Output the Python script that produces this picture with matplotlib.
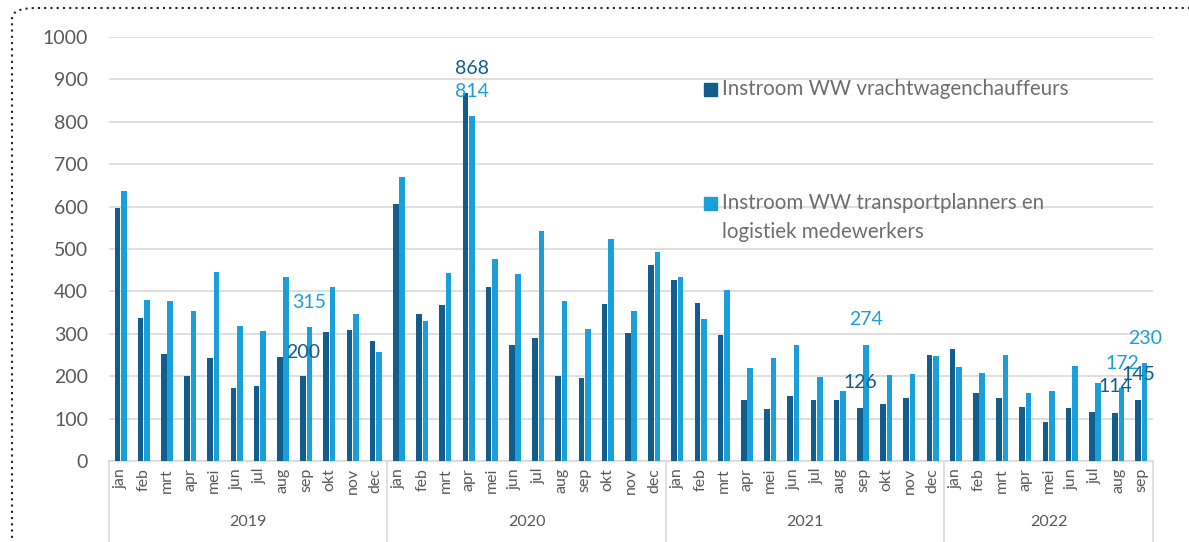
import matplotlib
matplotlib.use("Agg")
import matplotlib.pyplot as plt
from matplotlib.patches import FancyBboxPatch, Rectangle
import matplotlib.transforms as mtransforms
import numpy as np

plt.rcParams['font.family'] = ['Lato', 'DejaVu Sans']

years = ["2019", "2020", "2021", "2022"]
months_per_year = [12, 12, 12, 9]
month_names = ["jan", "feb", "mrt", "apr", "mei", "jun", "jul", "aug",
               "sep", "okt", "nov", "dec"]

chauffeurs = [597, 338, 252, 200, 242, 173, 178, 245, 200, 305, 310, 282,
              606, 347, 369, 868, 410, 273, 291, 201, 195, 370, 303, 463,
              428, 372, 298, 144, 123, 153, 143, 143, 126, 134, 149, 250,
              264, 161, 149, 128, 91, 125, 115, 114, 145]
planners = [637, 379, 378, 354, 445, 318, 306, 435, 315, 410, 346, 256,
            669, 330, 443, 814, 476, 442, 542, 377, 311, 524, 354, 493,
            433, 335, 403, 220, 242, 274, 199, 165, 274, 202, 206, 248,
            222, 208, 249, 160, 165, 225, 185, 172, 230]

series_names = ["Instroom WW vrachtwagenchauffeurs",
                "Instroom WW transportplanners en\nlogistiek medewerkers"]
colors = ["#135D8E", "#1A9FD9"]

# data labels: (month index, series, dx, dy)
labels = [(15, 0, 0.15, 57), (15, 1, 0.13, 57),
          (8, 1, 0.13, 58), (8, 0, -0.12, 57),
          (32, 1, 0.13, 59), (32, 0, -0.13, 58),
          (44, 1, 0.15, 58), (43, 1, 0.16, 59),
          (44, 0, -0.15, 58), (43, 0, -0.14, 61)]

gray = "#595959"
legend_gray = "#6E6E6E"
grid_col = "#D9D9D9"

fig = plt.figure(figsize=(11.89, 5.42), dpi=100)
W, H = 1189, 542
ax = fig.add_axes([109 / W, (H - 461) / H, (1153 - 109) / W, (461 - 37) / H])

n = len(chauffeurs)
x = np.arange(n)
bw = 0.24
ax.bar(x - 0.14, chauffeurs, bw, color=colors[0], zorder=3)
ax.bar(x + 0.14, planners, bw, color=colors[1], zorder=3)

ax.set_xlim(-0.5, n - 0.5)
ax.set_ylim(0, 1000)
ax.set_yticks(range(0, 1001, 100))
ax.yaxis.grid(True, color=grid_col, linewidth=1.2, zorder=0)
ax.set_axisbelow(True)
for s in ["top", "right", "left"]:
    ax.spines[s].set_visible(False)
ax.spines["bottom"].set_color(grid_col)
ax.spines["bottom"].set_linewidth(1.2)
ax.tick_params(axis="y", length=0, pad=15, labelsize=14, labelcolor=gray)

month_labels = []
for cnt in months_per_year:
    month_labels += month_names[:cnt]
ax.set_xticks(x)
ax.set_xticklabels(month_labels, rotation=90, fontsize=11.5, color=gray)
ax.tick_params(axis="x", length=0, pad=5)

trans = mtransforms.blended_transform_factory(ax.transData, ax.transAxes)
start = -0.5
bounds = [start]
for yr, cnt in zip(years, months_per_year):
    ax.text(start + cnt / 2, -0.145, yr, transform=trans, ha="center",
            va="center", fontsize=11.5, color=gray)
    start += cnt
    bounds.append(start)
for b in bounds:
    ax.plot([b, b], [0, -0.2], transform=trans, color=grid_col,
            linewidth=1.2, clip_on=False)

values = [chauffeurs, planners]
for idx, s, dx, dy in labels:
    v = values[s][idx]
    ax.text(idx + dx, v + dy, str(v), ha="center", va="center",
            fontsize=14, color=colors[s], zorder=5)

# legend, drawn by hand so the square lines up with the first text line
leg_rows = [89, 203]
for py, name, c in zip(leg_rows, series_names, colors):
    fig.patches.append(Rectangle((704 / W, (H - py - 6.5) / H), 13 / W, 13 / H,
                                 transform=fig.transFigure, color=c))
    for i, line in enumerate(name.split("\n")):
        fig.text(722 / W, (H - py - i * 29) / H, line, ha="left",
                 va="center", fontsize=14.8, color=legend_gray)

# dotted frame
frame = FancyBboxPatch((12 / W, -0.1), 1.2, (H - 8) / H + 0.1,
                       boxstyle="round,pad=0,rounding_size=0.02",
                       transform=fig.transFigure, fill=False,
                       edgecolor="#222222", linestyle=(0, (1, 2)),
                       linewidth=1.5, clip_on=False)
fig.patches.append(frame)

fig.savefig("out.png", dpi=100)
